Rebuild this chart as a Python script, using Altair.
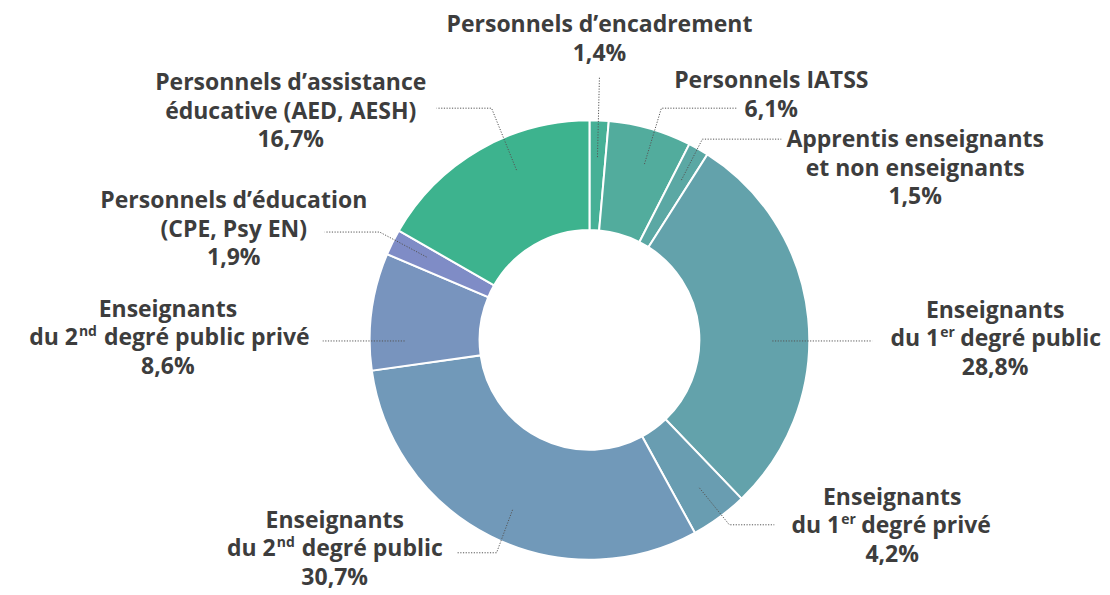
import altair as alt
import pandas as pd

# ---------------- data ----------------
categories = [
    "Personnels d’encadrement",
    "Personnels IATSS",
    "Apprentis enseignants et non enseignants",
    "Enseignants du 1er degré public",
    "Enseignants du 1er degré privé",
    "Enseignants du 2nd degré public",
    "Enseignants du 2nd degré public privé",
    "Personnels d’éducation (CPE, Psy EN)",
    "Personnels d’assistance éducative (AED, AESH)",
]
values = [1.4, 6.1, 1.5, 28.8, 4.2, 30.7, 8.6, 1.9, 16.7]
colors = ["#46b096", "#52ac9d", "#5ba8a4", "#63a2ab", "#699db1",
          "#7199b9", "#7894be", "#7f8cc6", "#3db38e"]

# label text lines (tuples are lines with a superscript: before, sup, after)
label_lines = [
    ["Personnels d’encadrement"],
    ["Personnels IATSS"],
    ["Apprentis enseignants", "et non enseignants"],
    ["Enseignants", ("du 1", "er", "degré public")],
    ["Enseignants", ("du 1", "er", "degré privé")],
    ["Enseignants", ("du 2", "nd", "degré public")],
    ["Enseignants", ("du 2", "nd", "degré public privé")],
    ["Personnels d’éducation", "(CPE, Psy EN)"],
    ["Personnels d’assistance", "éducative (AED, AESH)"],
]

# ---------------- layout (page pixels) ----------------
OFF = 8
W, H = 1094, 579
CX, CY = 590, 340
R_OUT, R_IN = 220, 110
LINE_H = 28.5
label_pos = [(600, 32), (772, 88), (916, 147), (996, 318), (893, 505),
             (335, 528), (168, 317), (234, 208), (291, 90)]
sup_anchor = [None, None, None, 940, 841, 276, 78, None, None]
leaders = [
    [(598, 157), (600, 76)],
    [(645, 164), (662, 108), (737, 108)],
    [(682, 180), (703, 139), (782, 139)],
    [(773, 341), (873, 341)],
    [(700, 488), (730, 525), (775, 525)],
    [(513, 510), (497, 553), (458, 553)],
    [(405, 341), (323, 341)],
    [(427, 257), (380, 232), (325, 232)],
    [(517, 170), (492, 108), (437, 108)],
]
FONT = "Open Sans"
FS = 23
TXT = "#3d3d3d"

# ---------------- tables ----------------
arc_df = pd.DataFrame({"cat": categories, "value": values, "idx": range(len(values))})

center_rows, left_rows, right_rows, sup_rows = [], [], [], []
for i, (lines, (lx, ly)) in enumerate(zip(label_lines, label_pos)):
    pct = f"{values[i]:.1f}".replace(".", ",") + "%"
    all_lines = lines + [pct]
    for j, ln in enumerate(all_lines):
        by = ly + j * LINE_H - OFF
        if isinstance(ln, tuple):
            a = sup_anchor[i]
            pre, sup, post = ln
            right_rows.append({"x": a - OFF, "y": by, "t": pre})
            sup_rows.append({"x": a + 1 - OFF, "y": by - 9, "t": sup})
            gap = 21 if sup == "er" else 26
            left_rows.append({"x": a + gap - OFF, "y": by, "t": post})
        else:
            center_rows.append({"x": lx - OFF, "y": by, "t": ln})

lead_rows = []
for i, pts in enumerate(leaders):
    for k, (px, py) in enumerate(pts):
        lead_rows.append({"id": i, "k": k, "x": px - OFF, "y": py - OFF})

# ---------------- chart ----------------
donut = alt.Chart(arc_df).mark_arc(
    innerRadius=R_IN, outerRadius=R_OUT, stroke="white", strokeWidth=2
).encode(
    theta=alt.Theta("value:Q", stack=True),
    order=alt.Order("idx:Q"),
    color=alt.Color("cat:N", scale=alt.Scale(domain=categories, range=colors), legend=None),
    x=alt.value(CX - OFF),
    y=alt.value(CY - OFF),
)

lead = alt.Chart(pd.DataFrame(lead_rows)).mark_line(
    color="#555555", strokeWidth=1, strokeDash=[1.2, 1.5]
).encode(
    x=alt.X("x:Q", scale=None),
    y=alt.Y("y:Q", scale=None),
    detail="id:N",
    order="k:Q",
)

def text_layer(rows, align, size=FS):
    return alt.Chart(pd.DataFrame(rows)).mark_text(
        align=align, baseline="alphabetic", font=FONT, fontWeight="bold",
        fontSize=size, color=TXT
    ).encode(
        x=alt.X("x:Q", scale=None),
        y=alt.Y("y:Q", scale=None),
        text="t:N",
    )

chart = alt.layer(
    donut,
    lead,
    text_layer(center_rows, "center"),
    text_layer(right_rows, "right"),
    text_layer(left_rows, "left"),
    text_layer(sup_rows, "left", size=14),
).properties(
    width=W, height=H, padding=0
).configure_view(stroke=None)

chart.save("out.html", embed_options={"renderer": "svg", "actions": False})
